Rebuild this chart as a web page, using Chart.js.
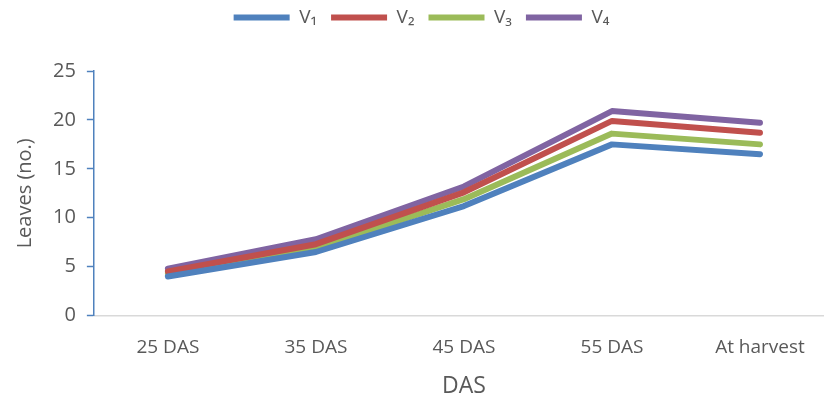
<!DOCTYPE html>
<html>
<head>
<meta charset="utf-8">
<script src="https://cdn.jsdelivr.net/npm/chart.js@4"></script>
<style>
  html, body { margin: 0; padding: 0; background: #fff; overflow: hidden; }
  #wrap { width: 834px; height: 408px; margin-top: -6px; position: relative; }
</style>
</head>
<body>
<div id="wrap"><canvas id="myChart"></canvas></div>
<script>
var stages = ["25 DAS", "35 DAS", "45 DAS", "55 DAS", "At harvest"];
var v1 = [4.0, 6.5, 11.2, 17.5, 16.5];
var v2 = [4.5, 7.3, 12.6, 19.9, 18.7];
var v3 = [4.3, 6.9, 11.9, 18.6, 17.5];
var v4 = [4.8, 7.8, 13.2, 20.9, 19.7];
var yTicks = [0, 5, 10, 15, 20, 25];

var fontName = "'Open Sans', sans-serif";

var makeSet = function(label, data, color) {
    return {
        label: label,
        data: data,
        borderColor: color,
        backgroundColor: color,
        borderWidth: 6,
        borderCapStyle: 'round',
        borderJoinStyle: 'round',
        pointStyle: 'line',
        pointRadius: 0,
        tension: 0
    };
};

// push the plot down below the legend
var legendGap = {
    id: 'legendGap',
    beforeInit: function(chart) {
        var fit = chart.legend.fit;
        chart.legend.fit = function() {
            fit.bind(chart.legend)();
            this.height += 34;
        };
    }
};

var ctx = document.getElementById('myChart').getContext('2d');

var chart = new Chart(ctx, {
    type: 'line',
    data: {
        labels: stages,
        datasets: [
            makeSet('V\u2081', v1, '#4f81bd'),
            makeSet('V\u2082', v2, '#c0504d'),
            makeSet('V\u2083', v3, '#9bbb59'),
            makeSet('V\u2084', v4, '#8064a2')
        ]
    },
    plugins: [legendGap],
    options: {
        responsive: true,
        maintainAspectRatio: false,
        animation: false,
        layout: { padding: { top: 0, left: 9, right: 0, bottom: 2 } },
        plugins: {
            legend: {
                position: 'top',
                labels: {
                    usePointStyle: true,
                    pointStyleWidth: 56,
                    boxHeight: 8,
                    padding: 14,
                    color: '#595959',
                    font: { family: fontName, size: 19 }
                }
            },
            tooltip: { enabled: false }
        },
        scales: {
            x: {
                offset: true,
                grid: { display: false },
                border: { color: '#d9d9d9', width: 1.5 },
                ticks: { color: '#595959', font: { family: fontName, size: 19 }, padding: 13 },
                title: { display: true, text: 'DAS', color: '#595959', font: { family: fontName, size: 23 }, padding: { top: 0, bottom: 0 } }
            },
            y: {
                min: 0,
                max: 25,
                afterBuildTicks: function(axis) {
                    axis.ticks = yTicks.map(function(v) { return { value: v }; });
                },
                grid: { drawOnChartArea: false, drawTicks: true, tickLength: 7, tickWidth: 1.5, tickColor: '#4f81bd' },
                border: { color: '#4f81bd', width: 1.5 },
                ticks: { color: '#595959', font: { family: fontName, size: 20 }, padding: 11 },
                title: { display: true, text: 'Leaves (no.)', color: '#595959', font: { family: fontName, size: 20 }, padding: { bottom: 5 } }
            }
        }
    }
});
</script>
</body>
</html>
